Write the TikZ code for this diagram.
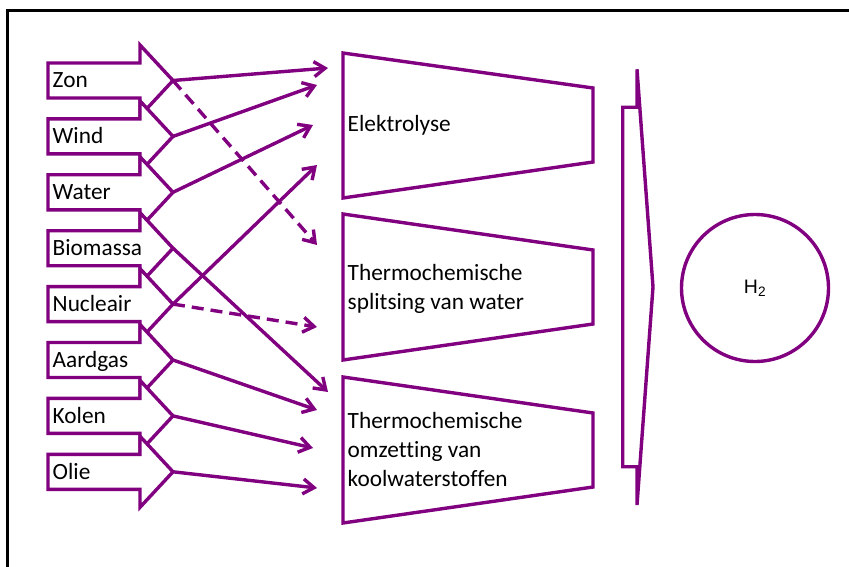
\documentclass[tikz,border=0pt]{standalone}
\usepackage{fontspec}
\setmainfont{Carlito}[Ligatures=NoCommon]
\newfontfamily\arialf{Liberation Sans}
\usetikzlibrary{arrows.meta}
\definecolor{pp}{RGB}{128,0,128}
\tikzset{
  inarrow/.style={draw=pp, line width=3.4pt, fill=white, line join=miter},
  outline/.style={draw=pp, line width=3.4pt, line join=miter},
  conn/.style={draw=pp, line width=3.4pt, -{Straight Barb[length=11pt,width=15pt]}},
  dconn/.style={conn, dash pattern=on 12pt off 7pt},
  lbl/.style={font=\fontsize{23.3}{28.8}\selectfont, anchor=base west, inner sep=0pt, text=black},
}
\begin{document}
\begin{tikzpicture}[x=1pt,y=-1pt]
\useasboundingbox (0,0) rectangle (849,567);
% frame
\draw[black, line width=3pt] (849,11) -- (7,11) -- (7,567);
% input arrows
\foreach \n/\t [count=\i from 0] in {zon/Zon, wind/Wind, water/Water, bio/Biomassa, nuc/Nucleair, aard/Aardgas, kolen/Kolen, olie/Olie} {
  \pgfmathsetmacro\yc{80.5+55.9*\i}
  \draw[inarrow] (48,\yc-17.5) -- (140,\yc-17.5) -- (140,\yc-35.5) -- (173,\yc)
     -- (140,\yc+35.5) -- (140,\yc+17.5) -- (48,\yc+17.5) -- cycle;
  \coordinate (\n) at (173,\yc);
  \node[lbl] (\n-l) at (52.5,\yc+7.2) {\t};
}
% process trapezoids
\draw[outline] (343,53) -- (593,88) -- (593,162) -- (343,198) -- cycle;
\draw[outline] (343,214) -- (593,250) -- (593,324) -- (343,360) -- cycle;
\draw[outline] (343,377) -- (593,413) -- (593,487) -- (343,523) -- cycle;
\node[lbl] (elek) at (347.5,131.7) {Elektrolyse};
\node[lbl, align=left] (split) at (347.5,309.5) {Thermochemische\\splitsing van water};
\node[lbl, align=left] (omz) at (347.5,486) {Thermochemische\\omzetting van\\koolwaterstoffen};
% connector end points
\coordinate (e1) at (328,68);
\coordinate (e2) at (317,85);
\coordinate (e3) at (313,125);
\coordinate (e4) at (317,165);
\coordinate (s1) at (317,245);
\coordinate (s2) at (317,327);
\coordinate (o1) at (328,392);
\coordinate (o2) at (317,410);
\coordinate (o3) at (313,448);
\coordinate (o4) at (317,488);
% connectors
\draw[conn] (zon) -- (e1);
\draw[dconn] (zon) -- (s1);
\draw[conn] (wind) -- (e2);
\draw[conn] (water) -- (e3);
\draw[conn] (nuc) -- (e4);
\draw[dconn] (nuc) -- (s2);
\draw[conn] (bio) -- (o1);
\draw[conn] (aard) -- (o2);
\draw[conn] (kolen) -- (o3);
\draw[conn] (olie) -- (o4);
% merging arrow
\draw[outline] (622.7,107.3) -- (637,107.3) -- (637,69.3) -- (653,287) -- (637,505)
   -- (637,466.7) -- (622.7,466.7) -- cycle;
% H2
\node[draw=pp, line width=3.4pt, circle, minimum size=147pt, inner sep=0pt,
      font=\arialf\fontsize{19.5}{22}\selectfont] (h2) at (755,288) {H\textsubscript{2}};
\end{tikzpicture}
\end{document}
